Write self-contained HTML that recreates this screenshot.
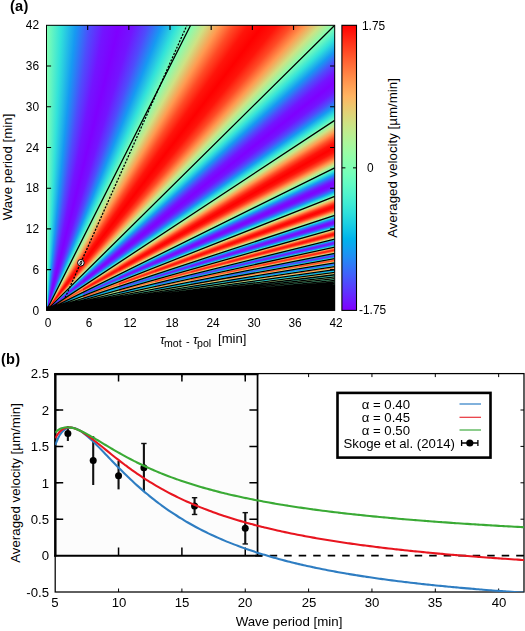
<!DOCTYPE html>
<html><head><meta charset="utf-8"><title>figure</title>
<style>
html,body{margin:0;padding:0;background:#fff;}
body{width:525px;height:631px;position:relative;overflow:hidden;font-family:"Liberation Sans", sans-serif;color:#000;}
.t{position:absolute;white-space:nowrap;line-height:1;will-change:transform;}
.ta{font-size:11.9px;}
.tb{font-size:13.2px;}
.lab{font-size:13.3px;}
.pl{font-size:14.6px;font-weight:bold;letter-spacing:0.2px;}
#h0{position:absolute;left:46.50px;top:25.30px;width:36.52px;height:285.10px;background:conic-gradient(from 0deg at 0.00px 100%,#80ffb4 0.00deg,#31e2da 2.89deg,#169af2 5.77deg,#4f4bfc 8.62deg,#7314ff 11.43deg,#7f00ff 14.18deg,#7314ff 16.87deg,#4f4bfc 19.48deg,#169af2 22.02deg,#31e2da 24.46deg,#7fffb4 26.81deg,#cee284 29.07deg,#ff9a51 31.24deg,#ff4d27 33.31deg,#ff160b 35.28deg,#ff0301 37.17deg,#ff170b 38.96deg,#ff4f28 40.67deg,#ff9c53 42.30deg,#cde385 43.84deg,#80ffb4 45.31deg,#33e3da 46.71deg,#12a0f1 48.03deg,#4757fb 49.30deg,#6924fe 50.50deg,#7314ff 51.64deg,#652afe 52.73deg,#4160fa 53.77deg,#0aa8ef 54.75deg,#38e7d7 55.70deg,#7fffb4 56.60deg,#c5e88a 57.45deg,#ffb260 58.27deg,#ff783e 59.06deg,#ff522a 59.80deg,#ff4a25 60.52deg,#ff6031 61.21deg,#ff8e4a 61.87deg,#efc56d 62.50deg,#b8f092 63.10deg,#80ffb4 63.68deg,#4bf2cf 64.24deg,#20d4e1 64.78deg,#03b7eb 65.29deg,#0ba7ef 65.79deg,#0aa9ee 66.27deg,#05baea 66.73deg,#1fd3e1 67.17deg,#3febd4 67.60deg,#60fac5 68.01deg,#7fffb4 68.41deg,#98fca6 68.80deg,#a9f79c 69.17deg,#b1f397 69.53deg,#b0f498 69.88deg,#a8f79c 70.22deg,#9dfba3 70.54deg,#91feaa 70.86deg,#88ffaf 71.16deg,#84ffb2 71.46deg,#80ffb4 71.75deg,#7bffb7 72.03deg,#77ffb9 72.30deg,#73febb 72.57deg,#71febc 72.82deg,#70febd 73.07deg,#71febc 73.31deg,#73febb 73.55deg,#77ffb9 73.78deg,#7bffb7 74.00deg,#80ffb4 74.22deg,#84ffb2 74.43deg,#88ffaf 74.63deg,#8cfead 74.84deg,#8efeac 75.03deg,#8ffeac 75.22deg,#8efeac 75.41deg,#8cfead 75.59deg,#88ffaf 75.77deg,#84ffb2 75.94deg,#80ffb4 76.11deg,#7bffb7 76.27deg,#77ffb9 76.44deg,#73febb 76.59deg,#71febc 76.75deg,#70febd 76.90deg,#71febc 77.04deg,#000 77.06deg,#000 360deg);}
#h1{position:absolute;left:82.53px;top:25.30px;width:36.52px;height:285.10px;background:conic-gradient(from 0deg at -36.02px 100%,#169af2 5.77deg,#4f4bfc 8.62deg,#7314ff 11.43deg,#7f00ff 14.18deg,#7314ff 16.87deg,#4f4bfc 19.48deg,#169af2 22.02deg,#31e2da 24.46deg,#7fffb4 26.81deg,#cee284 29.07deg,#ff9a51 31.24deg,#ff4c26 33.31deg,#ff140a 35.28deg,#ff0100 37.17deg,#ff140a 38.96deg,#ff4c26 40.67deg,#ff9a51 42.30deg,#cee284 43.84deg,#80ffb4 45.31deg,#31e2da 46.71deg,#159bf1 48.03deg,#4d4efc 49.30deg,#7117ff 50.50deg,#7d04ff 51.64deg,#7019ff 52.73deg,#4c50fc 53.77deg,#149df1 54.75deg,#32e3da 55.70deg,#7fffb4 56.60deg,#cce385 57.45deg,#ff9f54 58.27deg,#ff562c 59.06deg,#ff2211 59.80deg,#ff1109 60.52deg,#ff2613 61.21deg,#ff5c2f 61.87deg,#ffa558 62.50deg,#c9e587 63.10deg,#80ffb4 63.68deg,#37e6d8 64.24deg,#09aaee 64.78deg,#3b68f9 65.29deg,#5a3bfd 65.79deg,#622dfe 66.27deg,#5542fd 66.73deg,#3374f8 67.17deg,#00b4ec 67.60deg,#3dead5 68.01deg,#7fffb4 68.41deg,#c0eb8d 68.80deg,#f8bc67 69.17deg,#ff8a48 69.53deg,#ff6735 69.88deg,#ff5f31 70.22deg,#ff733b 70.54deg,#ff9b52 70.86deg,#e9cb71 71.16deg,#b6f194 71.46deg,#80ffb4 71.75deg,#4df3ce 72.03deg,#22d6e0 72.30deg,#03b8eb 72.57deg,#0ea5ef 72.82deg,#0fa3f0 73.07deg,#03b2ec 73.31deg,#16cbe5 73.55deg,#36e6d8 73.78deg,#5bf9c7 74.00deg,#7fffb4 74.22deg,#a0faa1 74.43deg,#b9ef91 74.63deg,#cae587 74.84deg,#d0e082 75.03deg,#cee284 75.22deg,#c4e98b 75.41deg,#b4f295 75.59deg,#a1f9a0 75.77deg,#8ffeab 75.94deg,#80ffb4 76.11deg,#74febb 76.27deg,#6dfdbe 76.44deg,#6cfdbf 76.59deg,#6ffebd 76.75deg,#70febd 76.90deg,#71febc 77.04deg,#73febb 77.19deg,#77ffb9 77.33deg,#7bffb7 77.47deg,#7fffb4 77.60deg,#84ffb2 77.73deg,#88ffaf 77.86deg,#8cfead 77.99deg,#8efeac 78.11deg,#8ffeac 78.24deg,#8efeac 78.35deg,#8cfead 78.47deg,#88ffaf 78.59deg,#84ffb2 78.70deg,#80ffb4 78.81deg,#7bffb7 78.92deg,#77ffb9 79.02deg,#73febb 79.13deg,#71febc 79.23deg,#70febd 79.33deg,#71febc 79.43deg,#73febb 79.52deg,#77ffb9 79.62deg,#7bffb7 79.71deg,#7fffb4 79.80deg,#84ffb2 79.89deg,#88ffaf 79.98deg,#8cfead 80.07deg,#8efeac 80.15deg,#8ffeac 80.24deg,#8efeac 80.32deg,#8cfead 80.40deg,#000 80.42deg,#000 360deg);}
#h2{position:absolute;left:118.55px;top:25.30px;width:36.52px;height:285.10px;background:conic-gradient(from 0deg at -72.05px 100%,#7f00ff 14.18deg,#7314ff 16.87deg,#4f4bfc 19.48deg,#169af2 22.02deg,#31e2da 24.46deg,#7fffb4 26.81deg,#cee284 29.07deg,#ff9a51 31.24deg,#ff4b26 33.31deg,#ff140a 35.28deg,#ff0000 37.17deg,#ff140a 38.96deg,#ff4c26 40.67deg,#ff9a51 42.30deg,#cee284 43.84deg,#80ffb4 45.31deg,#31e2da 46.71deg,#169af2 48.03deg,#4e4cfc 49.30deg,#7215ff 50.50deg,#7e02ff 51.64deg,#7215ff 52.73deg,#4e4dfc 53.77deg,#159bf2 54.75deg,#31e2da 55.70deg,#7fffb4 56.60deg,#cee284 57.45deg,#ff9c52 58.27deg,#ff4f28 59.06deg,#ff190c 59.80deg,#ff0603 60.52deg,#ff1a0d 61.21deg,#ff5129 61.87deg,#ff9e54 62.50deg,#cce385 63.10deg,#80ffb4 63.68deg,#33e3d9 64.24deg,#12a0f1 64.78deg,#4856fb 65.29deg,#6a22fe 65.79deg,#7511ff 66.27deg,#6825fe 66.73deg,#455bfb 67.17deg,#0ea4f0 67.60deg,#35e5d8 68.01deg,#7fffb4 68.41deg,#c9e587 68.80deg,#ffa759 69.17deg,#ff6433 69.53deg,#ff341a 69.88deg,#ff2512 70.22deg,#ff391d 70.54deg,#ff6b37 70.86deg,#ffae5e 71.16deg,#c5e88a 71.46deg,#80ffb4 71.75deg,#3ce9d6 72.03deg,#00b4ec 72.30deg,#2f7af7 72.57deg,#4b51fc 72.82deg,#5345fd 73.07deg,#4658fb 73.31deg,#2685f5 73.55deg,#09bee9 73.78deg,#42edd3 74.00deg,#7fffb4 74.22deg,#bbee90 74.43deg,#efc56d 74.63deg,#ff9951 74.84deg,#ff7a3f 75.03deg,#ff733b 75.22deg,#ff8444 75.41deg,#ffa759 75.59deg,#e2d176 75.77deg,#b2f396 75.94deg,#80ffb4 76.11deg,#4ff4cd 76.27deg,#27dade 76.44deg,#09bee9 76.59deg,#08abee 76.75deg,#0aa9ef 76.90deg,#01b5eb 77.04deg,#18cde4 77.19deg,#37e6d8 77.33deg,#5bf9c7 77.47deg,#7fffb4 77.60deg,#a1faa1 77.73deg,#bced90 77.86deg,#cfe183 77.99deg,#d8da7d 78.11deg,#d7da7d 78.24deg,#cee284 78.35deg,#beec8e 78.47deg,#aaf69b 78.59deg,#94fda8 78.70deg,#80ffb4 78.81deg,#6efebe 78.92deg,#62fbc4 79.02deg,#5bf8c8 79.13deg,#59f8c8 79.23deg,#5cf9c7 79.33deg,#63fbc4 79.43deg,#6bfdbf 79.52deg,#74febb 79.62deg,#7bffb7 79.71deg,#7fffb4 79.80deg,#84ffb2 79.89deg,#88ffaf 79.98deg,#8cfead 80.07deg,#8efeac 80.15deg,#8ffeac 80.24deg,#8efeac 80.32deg,#8cfead 80.40deg,#88ffaf 80.48deg,#84ffb2 80.56deg,#80ffb4 80.64deg,#7bffb7 80.71deg,#77ffb9 80.79deg,#73febb 80.86deg,#71febc 80.93deg,#70febd 81.01deg,#71febc 81.08deg,#73febb 81.15deg,#77ffb9 81.21deg,#7bffb7 81.28deg,#80ffb4 81.35deg,#84ffb2 81.41deg,#88ffaf 81.48deg,#8cfead 81.54deg,#8efeac 81.60deg,#8ffeac 81.66deg,#8efeac 81.72deg,#8cfead 81.78deg,#88ffaf 81.84deg,#84ffb2 81.90deg,#80ffb4 81.96deg,#7bffb7 82.01deg,#000 82.03deg,#000 360deg);}
#h3{position:absolute;left:154.57px;top:25.30px;width:36.53px;height:285.10px;background:conic-gradient(from 0deg at -108.07px 100%,#4f4bfc 19.48deg,#169af2 22.02deg,#31e2da 24.46deg,#7fffb4 26.81deg,#cee284 29.07deg,#ff9a51 31.24deg,#ff4b26 33.31deg,#ff140a 35.28deg,#ff0000 37.17deg,#ff140a 38.96deg,#ff4b26 40.67deg,#ff9a51 42.30deg,#cee284 43.84deg,#80ffb4 45.31deg,#31e2da 46.71deg,#169af2 48.03deg,#4e4cfc 49.30deg,#7314ff 50.50deg,#7f01ff 51.64deg,#7215ff 52.73deg,#4e4cfc 53.77deg,#169af2 54.75deg,#31e2da 55.70deg,#7fffb4 56.60deg,#cee284 57.45deg,#ff9b52 58.27deg,#ff4d27 59.06deg,#ff160b 59.80deg,#ff0302 60.52deg,#ff170b 61.21deg,#ff4e28 61.87deg,#ff9c52 62.50deg,#cde284 63.10deg,#80ffb4 63.68deg,#32e2da 64.24deg,#149df1 64.78deg,#4b51fc 65.29deg,#6e1bff 65.79deg,#7a09ff 66.27deg,#6d1dff 66.73deg,#4a53fb 67.17deg,#129ff1 67.60deg,#33e3d9 68.01deg,#7fffb4 68.41deg,#cce486 68.80deg,#ffa155 69.17deg,#ff582d 69.53deg,#ff2412 69.88deg,#ff130a 70.22deg,#ff2714 70.54deg,#ff5c2f 70.86deg,#ffa558 71.16deg,#c9e587 71.46deg,#80ffb4 71.75deg,#36e6d8 72.03deg,#0ba8ef 72.30deg,#3e64fa 72.57deg,#5e34fe 72.82deg,#6825fe 73.07deg,#5b38fd 73.31deg,#396bf9 73.55deg,#06aeed 73.78deg,#3ae8d7 74.00deg,#7fffb4 74.22deg,#c4e98a 74.43deg,#ffb260 74.63deg,#ff763d 74.84deg,#ff4c26 75.03deg,#ff3f20 75.22deg,#ff522a 75.41deg,#ff8042 75.59deg,#faba65 75.77deg,#bfec8e 75.94deg,#80ffb4 76.11deg,#41edd3 76.27deg,#0bc0e8 76.44deg,#1f8ff4 76.59deg,#386df9 76.75deg,#3f63fa 76.90deg,#3374f8 77.04deg,#169bf2 77.19deg,#15cae5 77.33deg,#48f0d0 77.47deg,#7fffb4 77.60deg,#b5f195 77.73deg,#e3d176 77.86deg,#ffad5d 77.99deg,#ff954e 78.11deg,#ff8f4b 78.24deg,#ff9d53 78.35deg,#faba65 78.47deg,#d6db7e 78.59deg,#acf69a 78.70deg,#80ffb4 78.81deg,#55f7ca 78.92deg,#32e2da 79.02deg,#18cde4 79.13deg,#0abfe9 79.23deg,#08bde9 79.33deg,#12c7e6 79.43deg,#25d9df 79.52deg,#41ecd4 79.62deg,#60fac5 79.71deg,#7fffb4 79.80deg,#9dfba3 79.89deg,#b4f295 79.98deg,#c5e88a 80.07deg,#cce385 80.15deg,#cce385 80.24deg,#c4e98b 80.32deg,#b6f194 80.40deg,#a5f89f 80.48deg,#92fdaa 80.56deg,#80ffb4 80.64deg,#70febd 80.71deg,#65fcc2 80.79deg,#5ffac6 80.86deg,#5df9c6 80.93deg,#60fac5 81.01deg,#65fcc2 81.08deg,#6dfdbf 81.15deg,#74feba 81.21deg,#7bffb7 81.28deg,#80ffb4 81.35deg,#84ffb2 81.41deg,#88ffaf 81.48deg,#8cfead 81.54deg,#8efeac 81.60deg,#8ffeac 81.66deg,#8efeac 81.72deg,#8cfead 81.78deg,#88ffaf 81.84deg,#84ffb2 81.90deg,#80ffb4 81.96deg,#7bffb7 82.01deg,#77ffb9 82.07deg,#73febb 82.12deg,#71febc 82.18deg,#70febd 82.23deg,#71febc 82.28deg,#73febb 82.33deg,#77ffb9 82.39deg,#7bffb7 82.44deg,#7fffb4 82.49deg,#84ffb2 82.54deg,#88ffaf 82.58deg,#8cfead 82.63deg,#8efeac 82.68deg,#8ffeac 82.73deg,#8efeac 82.77deg,#8cfead 82.82deg,#88ffaf 82.86deg,#84ffb2 82.91deg,#80ffb4 82.95deg,#7bffb7 82.99deg,#000 83.01deg,#000 360deg);}
#h4{position:absolute;left:190.60px;top:25.30px;width:36.53px;height:285.10px;background:conic-gradient(from 0deg at -144.10px 100%,#7fffb4 26.81deg,#cee284 29.07deg,#ff9a51 31.24deg,#ff4b26 33.31deg,#ff140a 35.28deg,#ff0000 37.17deg,#ff140a 38.96deg,#ff4b26 40.67deg,#ff9a51 42.30deg,#cee284 43.84deg,#80ffb4 45.31deg,#31e2da 46.71deg,#169af2 48.03deg,#4f4cfc 49.30deg,#7314ff 50.50deg,#7f01ff 51.64deg,#7314ff 52.73deg,#4e4cfc 53.77deg,#169af2 54.75deg,#31e2da 55.70deg,#7fffb4 56.60deg,#cee284 57.45deg,#ff9a51 58.27deg,#ff4d27 59.06deg,#ff150b 59.80deg,#ff0201 60.52deg,#ff160b 61.21deg,#ff4d27 61.87deg,#ff9b52 62.50deg,#cee284 63.10deg,#80ffb4 63.68deg,#31e2da 64.24deg,#159cf1 64.78deg,#4d4ffc 65.29deg,#7018ff 65.79deg,#7c05ff 66.27deg,#7019ff 66.73deg,#4c50fc 67.17deg,#149df1 67.60deg,#32e3da 68.01deg,#7fffb4 68.41deg,#cde385 68.80deg,#ff9e54 69.17deg,#ff532a 69.53deg,#ff1e0f 69.88deg,#ff0c06 70.22deg,#ff1f10 70.54deg,#ff562b 70.86deg,#ffa055 71.16deg,#cbe486 71.46deg,#80ffb4 71.75deg,#34e4d9 72.03deg,#0fa2f0 72.30deg,#455bfb 72.57deg,#6628fe 72.82deg,#7116ff 73.07deg,#652afe 73.31deg,#425ffa 73.55deg,#0ca6ef 73.78deg,#36e6d8 74.00deg,#7fffb4 74.22deg,#c8e688 74.43deg,#ffa95a 74.63deg,#ff6634 74.84deg,#ff371c 75.03deg,#ff2714 75.22deg,#ff3b1d 75.41deg,#ff6c37 75.59deg,#ffae5e 75.77deg,#c5e88a 75.94deg,#80ffb4 76.11deg,#3be9d6 76.27deg,#02b3ec 76.44deg,#3177f8 76.59deg,#4e4cfc 76.75deg,#573ffd 76.90deg,#4b51fc 77.04deg,#2b7ff6 77.19deg,#05baea 77.33deg,#40ecd4 77.47deg,#7fffb4 77.60deg,#beec8e 77.73deg,#f5bf69 77.86deg,#ff8c49 77.99deg,#ff6936 78.11deg,#ff5e30 78.24deg,#ff6f39 78.35deg,#ff964f 78.47deg,#edc76f 78.59deg,#b8f092 78.70deg,#80ffb4 78.81deg,#48f0d0 78.92deg,#18cde4 79.02deg,#0ca6ef 79.13deg,#228bf4 79.23deg,#2784f6 79.33deg,#1c92f3 79.43deg,#02b2ec 79.52deg,#23d7e0 79.62deg,#50f4cd 79.71deg,#7fffb4 79.80deg,#adf599 79.89deg,#d4dd80 79.98deg,#f2c26b 80.07deg,#ffb05f 80.15deg,#ffad5d 80.24deg,#fcb864 80.32deg,#e6cd73 80.40deg,#c8e688 80.48deg,#a5f89f 80.56deg,#80ffb4 80.64deg,#5df9c7 80.71deg,#3febd4 80.79deg,#2adddd 80.86deg,#1fd3e1 80.93deg,#1ed2e2 81.01deg,#26dade 81.08deg,#37e6d8 81.15deg,#4df3ce 81.21deg,#66fcc2 81.28deg,#80ffb4 81.35deg,#96fca7 81.41deg,#a9f79c 81.48deg,#b5f194 81.54deg,#bbee91 81.60deg,#baef91 81.66deg,#b3f295 81.72deg,#a8f79c 81.78deg,#9bfba5 81.84deg,#8dfead 81.90deg,#80ffb4 81.96deg,#75feba 82.01deg,#6dfdbe 82.07deg,#6afdc0 82.12deg,#69fdc0 82.18deg,#6cfdbf 82.23deg,#70febd 82.28deg,#73febb 82.33deg,#77ffb9 82.39deg,#7bffb7 82.44deg,#7fffb4 82.49deg,#84ffb2 82.54deg,#88ffaf 82.58deg,#8cfead 82.63deg,#8efeac 82.68deg,#8ffeac 82.73deg,#8efeac 82.77deg,#8cfead 82.82deg,#88ffaf 82.86deg,#84ffb2 82.91deg,#80ffb4 82.95deg,#7bffb7 82.99deg,#77ffb9 83.04deg,#73febb 83.08deg,#71febc 83.12deg,#70febd 83.16deg,#71febc 83.20deg,#73febb 83.24deg,#77ffb9 83.28deg,#7bffb7 83.32deg,#80ffb4 83.36deg,#84ffb2 83.40deg,#88ffaf 83.44deg,#8cfead 83.48deg,#8efeac 83.51deg,#8ffeac 83.55deg,#8efeac 83.59deg,#8cfead 83.62deg,#88ffaf 83.66deg,#84ffb2 83.69deg,#000 83.71deg,#000 360deg);}
#h5{position:absolute;left:226.62px;top:25.30px;width:36.52px;height:285.10px;background:conic-gradient(from 0deg at -180.12px 100%,#ff9a51 31.24deg,#ff4b26 33.31deg,#ff140a 35.28deg,#ff0000 37.17deg,#ff140a 38.96deg,#ff4b26 40.67deg,#ff9a51 42.30deg,#cee284 43.84deg,#80ffb4 45.31deg,#31e2da 46.71deg,#169af2 48.03deg,#4f4cfc 49.30deg,#7314ff 50.50deg,#7f00ff 51.64deg,#7314ff 52.73deg,#4f4cfc 53.77deg,#169af2 54.75deg,#31e2da 55.70deg,#7fffb4 56.60deg,#cee284 57.45deg,#ff9a51 58.27deg,#ff4c27 59.06deg,#ff150a 59.80deg,#ff0101 60.52deg,#ff150a 61.21deg,#ff4d27 61.87deg,#ff9b52 62.50deg,#cee284 63.10deg,#80ffb4 63.68deg,#31e2da 64.24deg,#159bf2 64.78deg,#4d4efc 65.29deg,#7117ff 65.79deg,#7d04ff 66.27deg,#7117ff 66.73deg,#4d4ffc 67.17deg,#159cf1 67.60deg,#32e2da 68.01deg,#7fffb4 68.41deg,#cde284 68.80deg,#ff9d53 69.17deg,#ff5129 69.53deg,#ff1a0d 69.88deg,#ff0804 70.22deg,#ff1c0e 70.54deg,#ff522a 70.86deg,#ff9e54 71.16deg,#cce385 71.46deg,#80ffb4 71.75deg,#33e3d9 72.03deg,#12a0f1 72.30deg,#4856fb 72.57deg,#6a21fe 72.82deg,#760fff 73.07deg,#6923fe 73.31deg,#4658fb 73.55deg,#10a2f0 73.78deg,#34e4d9 74.00deg,#7fffb4 74.22deg,#cae587 74.43deg,#ffa457 74.63deg,#ff5e30 74.84deg,#ff2b16 75.03deg,#ff1b0d 75.22deg,#ff2e17 75.41deg,#ff6232 75.59deg,#ffa85a 75.77deg,#c8e688 75.94deg,#80ffb4 76.11deg,#38e7d7 76.27deg,#08abee 76.44deg,#3a69f9 76.59deg,#5a3afd 76.75deg,#642bfe 76.90deg,#583efd 77.04deg,#366ff9 77.19deg,#04b0ed 77.33deg,#3be9d6 77.47deg,#7fffb4 77.60deg,#c3e98b 77.73deg,#ffb461 77.86deg,#ff793e 77.99deg,#ff4f28 78.11deg,#ff4221 78.24deg,#ff542a 78.35deg,#ff8043 78.47deg,#f9ba66 78.59deg,#bfec8e 78.70deg,#80ffb4 78.81deg,#41ecd3 78.92deg,#0abfe8 79.02deg,#208df4 79.13deg,#3b69f9 79.23deg,#425efa 79.33deg,#376ff9 79.43deg,#1a96f3 79.52deg,#12c7e6 79.62deg,#46efd1 79.71deg,#7fffb4 79.80deg,#b7f093 79.89deg,#e8cc72 79.98deg,#ffa457 80.07deg,#ff8847 80.15deg,#ff8042 80.24deg,#ff8e4a 80.32deg,#ffae5e 80.40deg,#ded579 80.48deg,#b1f397 80.56deg,#80ffb4 80.64deg,#50f4cd 80.71deg,#27dade 80.79deg,#09bee9 80.86deg,#09a9ee 80.93deg,#0da5ef 81.01deg,#04b0ed 81.08deg,#12c8e6 81.15deg,#32e3da 81.21deg,#58f7c9 81.28deg,#80ffb4 81.35deg,#a5f89e 81.41deg,#c5e88a 81.48deg,#ddd67a 81.54deg,#eaca71 81.60deg,#ecc86f 81.66deg,#e3d075 81.72deg,#d2df81 81.78deg,#b9ef92 81.84deg,#9dfba3 81.90deg,#80ffb4 81.96deg,#64fbc3 82.01deg,#4ef3ce 82.07deg,#3eebd5 82.12deg,#36e5d8 82.18deg,#36e5d8 82.23deg,#3dead5 82.28deg,#4af1d0 82.33deg,#5bf8c8 82.39deg,#6dfdbe 82.44deg,#7fffb4 82.49deg,#90feab 82.54deg,#9cfba4 82.58deg,#a4f99f 82.63deg,#a7f89d 82.68deg,#a5f89e 82.73deg,#a0faa1 82.77deg,#99fca6 82.82deg,#90feab 82.86deg,#87ffb0 82.91deg,#80ffb4 82.95deg,#7affb7 82.99deg,#77ffb9 83.04deg,#73febb 83.08deg,#71febc 83.12deg,#70febd 83.16deg,#71febc 83.20deg,#73febb 83.24deg,#77ffb9 83.28deg,#7bffb7 83.32deg,#80ffb4 83.36deg,#84ffb2 83.40deg,#88ffaf 83.44deg,#8cfead 83.48deg,#8efeac 83.51deg,#8ffeac 83.55deg,#8efeac 83.59deg,#8cfead 83.62deg,#88ffaf 83.66deg,#84ffb2 83.69deg,#80ffb4 83.73deg,#7bffb7 83.76deg,#77ffb9 83.80deg,#73febb 83.83deg,#71febc 83.86deg,#70febd 83.90deg,#71febc 83.93deg,#73febb 83.96deg,#77ffb9 83.99deg,#7bffb7 84.02deg,#7fffb4 84.06deg,#84ffb2 84.09deg,#88ffaf 84.12deg,#8cfead 84.15deg,#8efeac 84.18deg,#8ffeac 84.21deg,#000 84.23deg,#000 360deg);}
#h6{position:absolute;left:262.65px;top:25.30px;width:36.53px;height:285.10px;background:conic-gradient(from 0deg at -216.15px 100%,#ff0000 37.17deg,#ff140a 38.96deg,#ff4b26 40.67deg,#ff9a51 42.30deg,#cee284 43.84deg,#80ffb4 45.31deg,#31e2da 46.71deg,#169af2 48.03deg,#4f4bfc 49.30deg,#7314ff 50.50deg,#7f00ff 51.64deg,#7314ff 52.73deg,#4f4cfc 53.77deg,#169af2 54.75deg,#31e2da 55.70deg,#7fffb4 56.60deg,#cee284 57.45deg,#ff9a51 58.27deg,#ff4c26 59.06deg,#ff140a 59.80deg,#ff0100 60.52deg,#ff150a 61.21deg,#ff4c27 61.87deg,#ff9a51 62.50deg,#cee284 63.10deg,#80ffb4 63.68deg,#31e2da 64.24deg,#169bf2 64.78deg,#4e4dfc 65.29deg,#7216ff 65.79deg,#7e03ff 66.27deg,#7116ff 66.73deg,#4d4efc 67.17deg,#159bf1 67.60deg,#31e2da 68.01deg,#7fffb4 68.41deg,#cde284 68.80deg,#ff9c52 69.17deg,#ff4f28 69.53deg,#ff190c 69.88deg,#ff0603 70.22deg,#ff190d 70.54deg,#ff5029 70.86deg,#ff9d53 71.16deg,#cde385 71.46deg,#80ffb4 71.75deg,#32e3da 72.03deg,#139ef1 72.30deg,#4a53fc 72.57deg,#6d1dff 72.82deg,#790bff 73.07deg,#6c1fff 73.31deg,#4855fb 73.55deg,#12a0f1 73.78deg,#33e4d9 74.00deg,#7fffb4 74.22deg,#cbe486 74.43deg,#ffa156 74.63deg,#ff592d 74.84deg,#ff2512 75.03deg,#ff130a 75.22deg,#ff2713 75.41deg,#ff5c2f 75.59deg,#ffa457 75.77deg,#cae587 75.94deg,#80ffb4 76.11deg,#36e5d8 76.27deg,#0ca6ef 76.44deg,#4061fa 76.59deg,#6130fe 76.75deg,#6c1fff 76.90deg,#5f32fe 77.04deg,#3d65fa 77.19deg,#09aaee 77.33deg,#38e7d7 77.47deg,#7fffb4 77.60deg,#c6e789 77.73deg,#ffad5d 77.86deg,#ff6d38 77.99deg,#ff3f20 78.11deg,#ff3018 78.24deg,#ff4322 78.35deg,#ff733b 78.47deg,#ffb260 78.59deg,#c3e98b 78.70deg,#80ffb4 78.81deg,#3dead5 78.92deg,#01b6eb 79.02deg,#2d7cf7 79.13deg,#4a53fc 79.23deg,#5346fd 79.33deg,#4757fb 79.43deg,#2883f6 79.52deg,#07bce9 79.62deg,#41ecd4 79.71deg,#7fffb4 79.80deg,#bded8f 79.89deg,#f4c06a 79.98deg,#ff8f4b 80.07deg,#ff6c37 80.15deg,#ff6131 80.24deg,#ff713a 80.32deg,#ff9750 80.40deg,#edc86f 80.48deg,#b8f092 80.56deg,#80ffb4 80.64deg,#48f0d0 80.71deg,#18cde4 80.79deg,#0ea5ef 80.86deg,#2488f5 80.93deg,#2a80f6 81.01deg,#1f8ef4 81.08deg,#06aeed 81.15deg,#20d4e1 81.21deg,#4ef3ce 81.28deg,#80ffb4 81.35deg,#aff498 81.41deg,#d9d97d 81.48deg,#f8bc67 81.54deg,#ffa759 81.60deg,#ffa256 81.66deg,#ffad5d 81.72deg,#efc56d 81.78deg,#cfe183 81.84deg,#a8f79c 81.90deg,#80ffb4 81.96deg,#59f8c9 82.01deg,#37e6d8 82.07deg,#1ed3e1 82.12deg,#10c5e6 82.18deg,#0ec3e7 82.23deg,#16cbe4 82.28deg,#28dbde 82.33deg,#42edd3 82.39deg,#60fac5 82.44deg,#7fffb4 82.49deg,#9dfba3 82.54deg,#b5f194 82.58deg,#c7e788 82.63deg,#d1e082 82.68deg,#d2df82 82.73deg,#cae486 82.77deg,#bded8f 82.82deg,#aaf69b 82.86deg,#95fda8 82.91deg,#80ffb4 82.95deg,#6cfdbf 82.99deg,#5df9c7 83.04deg,#52f5cc 83.08deg,#4ef3ce 83.12deg,#4ef3cd 83.16deg,#54f6cb 83.20deg,#5df9c6 83.24deg,#68fcc1 83.28deg,#74feba 83.32deg,#80ffb4 83.36deg,#89ffaf 83.40deg,#8ffeab 83.44deg,#93fda9 83.48deg,#93fda9 83.51deg,#91feaa 83.55deg,#8efeac 83.59deg,#8cfead 83.62deg,#88ffaf 83.66deg,#84ffb2 83.69deg,#80ffb4 83.73deg,#7bffb7 83.76deg,#77ffb9 83.80deg,#73febb 83.83deg,#71febc 83.86deg,#70febd 83.90deg,#71febc 83.93deg,#73febb 83.96deg,#77ffb9 83.99deg,#7bffb7 84.02deg,#7fffb4 84.06deg,#84ffb2 84.09deg,#88ffaf 84.12deg,#8cfead 84.15deg,#8efeac 84.18deg,#8ffeac 84.21deg,#8efeac 84.24deg,#8cfead 84.26deg,#88ffaf 84.29deg,#84ffb2 84.32deg,#80ffb4 84.35deg,#7bffb7 84.38deg,#77ffb9 84.41deg,#73febb 84.43deg,#71febc 84.46deg,#70febd 84.49deg,#71febc 84.51deg,#73febb 84.54deg,#77ffb9 84.57deg,#7bffb7 84.59deg,#80ffb4 84.62deg,#000 84.64deg,#000 360deg);}
#h7{position:absolute;left:298.67px;top:25.30px;width:36.03px;height:285.10px;background:conic-gradient(from 0deg at -252.17px 100%,#ff4b26 40.67deg,#ff9a51 42.30deg,#cee284 43.84deg,#80ffb4 45.31deg,#31e2da 46.71deg,#169af2 48.03deg,#4f4bfc 49.30deg,#7314ff 50.50deg,#7f00ff 51.64deg,#7314ff 52.73deg,#4f4cfc 53.77deg,#169af2 54.75deg,#31e2da 55.70deg,#7fffb4 56.60deg,#cee284 57.45deg,#ff9a51 58.27deg,#ff4c26 59.06deg,#ff140a 59.80deg,#ff0100 60.52deg,#ff140a 61.21deg,#ff4c26 61.87deg,#ff9a51 62.50deg,#cee284 63.10deg,#80ffb4 63.68deg,#31e2da 64.24deg,#169af2 64.78deg,#4e4dfc 65.29deg,#7215ff 65.79deg,#7e02ff 66.27deg,#7216ff 66.73deg,#4e4dfc 67.17deg,#159bf2 67.60deg,#31e2da 68.01deg,#7fffb4 68.41deg,#cee284 68.80deg,#ff9b52 69.17deg,#ff4e28 69.53deg,#ff170c 69.88deg,#ff0402 70.22deg,#ff180c 70.54deg,#ff4f28 70.86deg,#ff9c53 71.16deg,#cde284 71.46deg,#80ffb4 71.75deg,#32e2da 72.03deg,#149df1 72.30deg,#4b51fc 72.57deg,#6e1bff 72.82deg,#7a08ff 73.07deg,#6e1cff 73.31deg,#4a52fc 73.55deg,#139ef1 73.78deg,#33e3da 74.00deg,#7fffb4 74.22deg,#cce385 74.43deg,#ffa055 74.63deg,#ff552b 74.84deg,#ff2110 75.03deg,#ff0e07 75.22deg,#ff2211 75.41deg,#ff582d 75.59deg,#ffa256 75.77deg,#cbe486 75.94deg,#80ffb4 76.11deg,#35e4d9 76.27deg,#0fa3f0 76.44deg,#445cfb 76.59deg,#6529fe 76.75deg,#7018ff 76.90deg,#642bfe 77.04deg,#415ffa 77.19deg,#0ca6ef 77.33deg,#36e5d8 77.47deg,#7fffb4 77.60deg,#c8e688 77.73deg,#ffa95a 77.86deg,#ff6534 77.99deg,#ff351a 78.11deg,#ff2412 78.24deg,#ff371c 78.35deg,#ff6936 78.47deg,#ffac5d 78.59deg,#c6e789 78.70deg,#80ffb4 78.81deg,#3ae8d7 78.92deg,#04afed 79.02deg,#3571f8 79.13deg,#5444fd 79.23deg,#5d35fe 79.33deg,#5148fc 79.43deg,#3177f8 79.52deg,#00b4ec 79.62deg,#3dead5 79.71deg,#7fffb4 79.80deg,#c1ea8c 79.89deg,#fcb864 79.98deg,#ff8042 80.07deg,#ff582d 80.15deg,#ff4b26 80.24deg,#ff5c2f 80.32deg,#ff8746 80.40deg,#f6be68 80.48deg,#bded8f 80.56deg,#80ffb4 80.64deg,#43edd3 80.71deg,#0dc2e7 80.79deg,#1d92f3 80.86deg,#366ff9 80.93deg,#3e65fa 81.01deg,#3275f8 81.08deg,#169af2 81.15deg,#14c9e5 81.21deg,#48f0d1 81.28deg,#80ffb4 81.35deg,#b6f194 81.41deg,#e6ce73 81.48deg,#ffa659 81.54deg,#ff8a48 81.60deg,#ff8244 81.66deg,#ff904b 81.72deg,#ffaf5e 81.78deg,#ded579 81.84deg,#b1f397 81.90deg,#80ffb4 81.96deg,#50f4cd 82.01deg,#27dade 82.07deg,#07bce9 82.12deg,#0ba7ef 82.18deg,#10a2f0 82.23deg,#06aded 82.28deg,#10c5e7 82.33deg,#30e1db 82.39deg,#56f7ca 82.44deg,#7fffb4 82.49deg,#a7f89d 82.54deg,#c9e587 82.58deg,#e2d176 82.63deg,#f1c46c 82.68deg,#f4c06a 82.73deg,#ebc970 82.77deg,#d9d97d 82.82deg,#bfec8e 82.86deg,#a0faa2 82.91deg,#80ffb4 82.95deg,#61fbc4 82.99deg,#47f0d1 83.04deg,#35e4d9 83.08deg,#2adddd 83.12deg,#29dcdd 83.16deg,#30e1db 83.20deg,#3eebd5 83.24deg,#52f5cc 83.28deg,#69fcc1 83.32deg,#80ffb4 83.36deg,#95fda8 83.40deg,#a6f89e 83.44deg,#b2f396 83.48deg,#b8f093 83.51deg,#b8f093 83.55deg,#b2f396 83.59deg,#a8f79d 83.62deg,#9bfba4 83.66deg,#8dfead 83.69deg,#80ffb4 83.73deg,#74febb 83.76deg,#6bfdbf 83.80deg,#66fcc2 83.83deg,#64fbc3 83.86deg,#65fcc2 83.90deg,#6afdc0 83.93deg,#6ffebd 83.96deg,#75feba 83.99deg,#7bffb7 84.02deg,#7fffb4 84.06deg,#84ffb2 84.09deg,#88ffaf 84.12deg,#8cfead 84.15deg,#8efeac 84.18deg,#8ffeac 84.21deg,#8efeac 84.24deg,#8cfead 84.26deg,#88ffaf 84.29deg,#84ffb2 84.32deg,#80ffb4 84.35deg,#7bffb7 84.38deg,#77ffb9 84.41deg,#73febb 84.43deg,#71febc 84.46deg,#70febd 84.49deg,#71febc 84.51deg,#73febb 84.54deg,#77ffb9 84.57deg,#7bffb7 84.59deg,#80ffb4 84.62deg,#84ffb2 84.64deg,#88ffaf 84.67deg,#8cfead 84.69deg,#8efeac 84.72deg,#8ffeac 84.74deg,#8efeac 84.77deg,#8cfead 84.79deg,#88ffaf 84.81deg,#84ffb2 84.84deg,#80ffb4 84.86deg,#7bffb7 84.88deg,#77ffb9 84.91deg,#73febb 84.93deg,#000 84.95deg,#000 360deg);}
#cbar{position:absolute;left:341.9px;top:25.30px;width:14.6px;height:285.10px;background:linear-gradient(to bottom,#ff0000 0.00%,#ff190d 3.12%,#ff3219 6.25%,#ff4a25 9.38%,#ff6232 12.50%,#ff783e 15.62%,#ff8e4a 18.75%,#ffa256 21.88%,#ffb462 25.00%,#efc56d 28.12%,#dfd478 31.25%,#cfe183 34.38%,#bfec8e 37.50%,#aff498 40.62%,#9ffaa2 43.75%,#8ffeab 46.88%,#80ffb4 50.00%,#70febd 53.12%,#60fac5 56.25%,#50f4cd 59.38%,#40ecd4 62.50%,#30e1db 65.62%,#20d4e1 68.75%,#10c5e7 71.88%,#00b4ec 75.00%,#10a2f0 78.12%,#208ef4 81.25%,#3078f7 84.38%,#4062fa 87.50%,#504afc 90.62%,#6032fe 93.75%,#7019ff 96.88%,#8000ff 100.00%);}
svg{position:absolute;left:0;top:0;}
</style></head><body>
<div id="h0"></div><div id="h1"></div><div id="h2"></div><div id="h3"></div><div id="h4"></div><div id="h5"></div><div id="h6"></div><div id="h7"></div>
<div id="cbar"></div>
<svg width="525" height="631" viewBox="0 0 525 631">
<defs><clipPath id="ca"><rect x="46.50" y="25.30" width="288.20" height="285.10"/></clipPath>
<clipPath id="cb"><rect x="55.20" y="373.60" width="468.79" height="218.40"/></clipPath></defs>
<g clip-path="url(#ca)">
<polygon points="46.50,310.40 334.70,307.55 334.70,310.40" fill="#000"/>
<path d="M46.50,310.40 L190.60,25.30 M46.50,310.40 L334.70,25.30 M46.50,310.40 L334.70,120.33 M46.50,310.40 L334.70,167.85 M46.50,310.40 L334.70,196.36 M46.50,310.40 L334.70,215.37 M46.50,310.40 L334.70,228.94 M46.50,310.40 L334.70,239.12 M46.50,310.40 L334.70,247.04 M46.50,310.40 L334.70,253.38 M46.50,310.40 L334.70,258.56 M46.50,310.40 L334.70,262.88 M46.50,310.40 L334.70,266.54 M46.50,310.40 L334.70,269.67 M46.50,310.40 L334.70,272.39 M46.50,310.40 L334.70,274.76 M46.50,310.40 L334.70,276.86 M46.50,310.40 L334.70,278.72 M46.50,310.40 L334.70,280.39 M46.50,310.40 L334.70,281.89 M46.50,310.40 L334.70,283.25 M46.50,310.40 L334.70,284.48 M46.50,310.40 L334.70,285.61 M46.50,310.40 L334.70,286.64 M46.50,310.40 L334.70,287.59 M46.50,310.40 L334.70,288.47 M46.50,310.40 L334.70,289.28 M46.50,310.40 L334.70,290.04 M46.50,310.40 L334.70,290.74 M46.50,310.40 L334.70,291.39 M46.50,310.40 L334.70,292.01 M46.50,310.40 L334.70,292.58 M46.50,310.40 L334.70,293.12 M46.50,310.40 L334.70,293.63 M46.50,310.40 L334.70,294.11 M46.50,310.40 L334.70,294.56 M46.50,310.40 L334.70,294.99 M46.50,310.40 L334.70,295.39 M46.50,310.40 L334.70,295.78 M46.50,310.40 L334.70,296.14 M46.50,310.40 L334.70,296.49 M46.50,310.40 L334.70,296.82 M46.50,310.40 L334.70,297.14 M46.50,310.40 L334.70,297.44 M46.50,310.40 L334.70,297.73 M46.50,310.40 L334.70,298.00 M46.50,310.40 L334.70,298.27 M46.50,310.40 L334.70,298.52 M46.50,310.40 L334.70,298.76 M46.50,310.40 L334.70,299.00 M46.50,310.40 L334.70,299.22 M46.50,310.40 L334.70,299.43 M46.50,310.40 L334.70,299.64 M46.50,310.40 L334.70,299.84 M46.50,310.40 L334.70,300.03 M46.50,310.40 L334.70,300.22 M46.50,310.40 L334.70,300.40 M46.50,310.40 L334.70,300.57 M46.50,310.40 L334.70,300.74 M46.50,310.40 L334.70,300.90 M46.50,310.40 L334.70,301.05 M46.50,310.40 L334.70,301.20 M46.50,310.40 L334.70,301.35 M46.50,310.40 L334.70,301.49 M46.50,310.40 L334.70,301.63 M46.50,310.40 L334.70,301.76 M46.50,310.40 L334.70,301.89 M46.50,310.40 L334.70,302.01 M46.50,310.40 L334.70,302.14 M46.50,310.40 L334.70,302.25 M46.50,310.40 L334.70,302.37 M46.50,310.40 L334.70,302.48 M46.50,310.40 L334.70,302.59 M46.50,310.40 L334.70,302.69 M46.50,310.40 L334.70,302.80 M46.50,310.40 L334.70,302.90 M46.50,310.40 L334.70,302.99 M46.50,310.40 L334.70,303.09 M46.50,310.40 L334.70,303.18 M46.50,310.40 L334.70,303.27 M46.50,310.40 L334.70,303.36 M46.50,310.40 L334.70,303.45 M46.50,310.40 L334.70,303.53 M46.50,310.40 L334.70,303.61 M46.50,310.40 L334.70,303.69 M46.50,310.40 L334.70,303.77 M46.50,310.40 L334.70,303.85 M46.50,310.40 L334.70,303.92 M46.50,310.40 L334.70,303.99 M46.50,310.40 L334.70,304.06 M46.50,310.40 L334.70,304.13 M46.50,310.40 L334.70,304.20 M46.50,310.40 L334.70,304.27 M46.50,310.40 L334.70,304.33 M46.50,310.40 L334.70,304.40 M46.50,310.40 L334.70,304.46 M46.50,310.40 L334.70,304.52 M46.50,310.40 L334.70,304.58 M46.50,310.40 L334.70,304.64 M46.50,310.40 L334.70,304.70 M46.50,310.40 L334.70,304.75 M46.50,310.40 L334.70,304.81 M46.50,310.40 L334.70,304.86 M46.50,310.40 L334.70,304.92 M46.50,310.40 L334.70,304.97 M46.50,310.40 L334.70,305.02 M46.50,310.40 L334.70,305.07 M46.50,310.40 L334.70,305.12 M46.50,310.40 L334.70,305.17 M46.50,310.40 L334.70,305.22 M46.50,310.40 L334.70,305.26 M46.50,310.40 L334.70,305.31 M46.50,310.40 L334.70,305.35 M46.50,310.40 L334.70,305.40 M46.50,310.40 L334.70,305.44 M46.50,310.40 L334.70,305.48 M46.50,310.40 L334.70,305.53 M46.50,310.40 L334.70,305.57 M46.50,310.40 L334.70,305.61 M46.50,310.40 L334.70,305.65 M46.50,310.40 L334.70,305.69 M46.50,310.40 L334.70,305.73 M46.50,310.40 L334.70,305.76 M46.50,310.40 L334.70,305.80 M46.50,310.40 L334.70,305.84 M46.50,310.40 L334.70,305.87 M46.50,310.40 L334.70,305.91 M46.50,310.40 L334.70,305.95 M46.50,310.40 L334.70,305.98 M46.50,310.40 L334.70,306.01 M46.50,310.40 L334.70,306.05 M46.50,310.40 L334.70,306.08 M46.50,310.40 L334.70,306.11 M46.50,310.40 L334.70,306.14 M46.50,310.40 L334.70,306.18 M46.50,310.40 L334.70,306.21 M46.50,310.40 L334.70,306.24 M46.50,310.40 L334.70,306.27 M46.50,310.40 L334.70,306.30 M46.50,310.40 L334.70,306.33 M46.50,310.40 L334.70,306.36 M46.50,310.40 L334.70,306.38 M46.50,310.40 L334.70,306.41 M46.50,310.40 L334.70,306.44 M46.50,310.40 L334.70,306.47 M46.50,310.40 L334.70,306.49 M46.50,310.40 L334.70,306.52 M46.50,310.40 L334.70,306.55 M46.50,310.40 L334.70,306.57 M46.50,310.40 L334.70,306.60 M46.50,310.40 L334.70,306.62 M46.50,310.40 L334.70,306.65 M46.50,310.40 L334.70,306.67 M46.50,310.40 L334.70,306.70 M46.50,310.40 L334.70,306.72 M46.50,310.40 L334.70,306.74 M46.50,310.40 L334.70,306.77 M46.50,310.40 L334.70,306.79 M46.50,310.40 L334.70,306.81 M46.50,310.40 L334.70,306.84 M46.50,310.40 L334.70,306.86 M46.50,310.40 L334.70,306.88 M46.50,310.40 L334.70,306.90 M46.50,310.40 L334.70,306.92 M46.50,310.40 L334.70,306.94 M46.50,310.40 L334.70,306.97 M46.50,310.40 L334.70,306.99 M46.50,310.40 L334.70,307.01 M46.50,310.40 L334.70,307.03 M46.50,310.40 L334.70,307.05 M46.50,310.40 L334.70,307.07 M46.50,310.40 L334.70,307.08 M46.50,310.40 L334.70,307.10 M46.50,310.40 L334.70,307.12 M46.50,310.40 L334.70,307.14 M46.50,310.40 L334.70,307.16 M46.50,310.40 L334.70,307.18 M46.50,310.40 L334.70,307.20 M46.50,310.40 L334.70,307.21 M46.50,310.40 L334.70,307.23 M46.50,310.40 L334.70,307.25 M46.50,310.40 L334.70,307.27 M46.50,310.40 L334.70,307.28 M46.50,310.40 L334.70,307.30 M46.50,310.40 L334.70,307.32 M46.50,310.40 L334.70,307.33 M46.50,310.40 L334.70,307.35 M46.50,310.40 L334.70,307.37 M46.50,310.40 L334.70,307.38 M46.50,310.40 L334.70,307.40 M46.50,310.40 L334.70,307.41 M46.50,310.40 L334.70,307.43 M46.50,310.40 L334.70,307.45 M46.50,310.40 L334.70,307.46 M46.50,310.40 L334.70,307.48 M46.50,310.40 L334.70,307.49 M46.50,310.40 L334.70,307.51 M46.50,310.40 L334.70,307.52 M46.50,310.40 L334.70,307.53 M46.50,310.40 L334.70,307.55" stroke="#000" stroke-width="1.3" fill="none"/>
<rect x="46.50" y="306.4" width="288.20" height="5" fill="#000"/>
<line x1="65.1" y1="297.8" x2="186.9" y2="25.3" stroke="#000" stroke-width="1.3" stroke-dasharray="2.1,1.4"/>
</g>
<circle cx="80.9" cy="262.8" r="3.3" fill="#fff" stroke="#000" stroke-width="1"/>
<ellipse cx="80.9" cy="262.9" rx="0.85" ry="1.65" fill="none" stroke="#000" stroke-width="1" transform="rotate(18 80.9 262.9)"/>
<rect x="46.50" y="25.30" width="288.20" height="285.10" fill="none" stroke="#000" stroke-width="1"/>
<path d="M87.67,310.40 v-4.6 M87.67,25.30 v4.6 M46.50,269.67 h4.6 M334.70,269.67 h-4.6 M128.84,310.40 v-4.6 M128.84,25.30 v4.6 M46.50,228.94 h4.6 M334.70,228.94 h-4.6 M170.01,310.40 v-4.6 M170.01,25.30 v4.6 M46.50,188.21 h4.6 M334.70,188.21 h-4.6 M211.19,310.40 v-4.6 M211.19,25.30 v4.6 M46.50,147.49 h4.6 M334.70,147.49 h-4.6 M252.36,310.40 v-4.6 M252.36,25.30 v4.6 M46.50,106.76 h4.6 M334.70,106.76 h-4.6 M293.53,310.40 v-4.6 M293.53,25.30 v4.6 M46.50,66.03 h4.6 M334.70,66.03 h-4.6" stroke="#000" stroke-width="1.15" fill="none"/>
<rect x="341.9" y="25.30" width="14.6" height="285.10" fill="none" stroke="#000" stroke-width="1.1"/>
<path d="M341.9,167.85 h3.5 M356.5,167.85 h-3.5" stroke="#000" stroke-width="1" fill="none"/>
<rect x="55.20" y="373.60" width="202.20" height="182.00" fill="#fcfcfc"/>
<rect x="55.20" y="373.60" width="468.79" height="218.40" fill="none" stroke="#000" stroke-width="1.25"/>
<path d="M118.55,592.00 v-3.5 M118.55,373.60 v3.5 M181.90,592.00 v-3.5 M181.90,373.60 v3.5 M245.25,592.00 v-3.5 M245.25,373.60 v3.5 M308.60,592.00 v-3.5 M308.60,373.60 v3.5 M371.95,592.00 v-3.5 M371.95,373.60 v3.5 M435.30,592.00 v-3.5 M435.30,373.60 v3.5 M498.65,592.00 v-3.5 M498.65,373.60 v3.5 M55.20,410.00 h3.5 M523.99,410.00 h-3.5 M55.20,446.40 h3.5 M523.99,446.40 h-3.5 M55.20,482.80 h3.5 M523.99,482.80 h-3.5 M55.20,519.20 h3.5 M523.99,519.20 h-3.5 M55.20,555.60 h3.5 M523.99,555.60 h-3.5" stroke="#000" stroke-width="1" fill="none"/>
<line x1="255.20" y1="555.60" x2="523.99" y2="555.60" stroke="#000" stroke-width="1.9" stroke-dasharray="7.5,7"/>
<line x1="55.35" y1="373.10" x2="55.35" y2="556.60" stroke="#000" stroke-width="2.4"/>
<line x1="54.15" y1="374.35" x2="258.40" y2="374.35" stroke="#000" stroke-width="1.9"/>
<line x1="257.55" y1="373.60" x2="257.55" y2="555.60" stroke="#000" stroke-width="1.75"/>
<line x1="54.15" y1="555.70" x2="262.20" y2="555.70" stroke="#000" stroke-width="2"/>
<path d="M118.55,373.60 v8 M118.55,555.60 v-8 M181.90,373.60 v8 M181.90,555.60 v-8 M245.25,373.60 v8 M245.25,555.60 v-8 M55.20,410.00 h8 M257.40,410.00 h-8 M55.20,446.40 h8 M257.40,446.40 h-8 M55.20,482.80 h8 M257.40,482.80 h-8 M55.20,519.20 h8 M257.40,519.20 h-8" stroke="#000" stroke-width="1.5" fill="none"/>
<path d="M67.87,426.02 V440.94" stroke="#111" stroke-width="2.1" fill="none"/><circle cx="67.87" cy="433.59" r="3.5" fill="#000"/><path d="M93.21,436.21 V484.98" stroke="#111" stroke-width="2.1" fill="none"/><circle cx="93.21" cy="460.38" r="3.5" fill="#000"/><path d="M118.55,460.96 V489.35" stroke="#111" stroke-width="2.1" fill="none"/><circle cx="118.55" cy="475.67" r="3.5" fill="#000"/><path d="M143.89,443.49 V490.95" stroke="#111" stroke-width="2.1" fill="none"/><path d="M141.19,443.49 h5.4" stroke="#111" stroke-width="1.4" fill="none"/><circle cx="143.89" cy="467.73" r="3.5" fill="#000"/><path d="M194.57,497.72 V514.47" stroke="#111" stroke-width="2.1" fill="none"/><path d="M191.87,497.72 h5.4" stroke="#111" stroke-width="1.4" fill="none"/><path d="M191.87,514.47 h5.4" stroke="#111" stroke-width="1.4" fill="none"/><circle cx="194.57" cy="506.10" r="3.5" fill="#000"/><path d="M245.25,512.65 V543.95" stroke="#111" stroke-width="2.1" fill="none"/><path d="M242.55,512.65 h5.4" stroke="#111" stroke-width="1.4" fill="none"/><path d="M242.55,543.95 h5.4" stroke="#111" stroke-width="1.4" fill="none"/><circle cx="245.25" cy="528.23" r="3.5" fill="#000"/>
<g clip-path="url(#cb)" fill="none" stroke-width="2.1" stroke-linecap="butt">
<path d="M55.20,445.06 C55.72,443.83 57.30,439.73 58.35,437.67 C59.39,435.61 60.44,434.05 61.49,432.72 C62.54,431.38 63.59,430.43 64.64,429.65 C65.69,428.87 66.74,428.39 67.78,428.05 C68.83,427.71 69.88,427.60 70.93,427.60 C71.98,427.61 73.03,427.79 74.08,428.06 C75.13,428.34 76.17,428.75 77.22,429.24 C78.27,429.72 79.32,430.32 80.37,430.97 C81.42,431.62 82.47,432.36 83.52,433.14 C84.56,433.92 85.61,434.76 86.66,435.64 C87.71,436.52 88.76,437.45 89.81,438.40 C90.86,439.35 91.91,440.35 92.95,441.35 C94.00,442.36 95.05,443.40 96.10,444.44 C97.15,445.49 98.20,446.56 99.25,447.63 C100.30,448.70 101.34,449.79 102.39,450.87 C103.44,451.96 104.49,453.06 105.54,454.15 C106.59,455.25 107.64,456.34 108.69,457.44 C109.73,458.53 110.78,459.63 111.83,460.72 C112.88,461.81 113.93,462.89 114.98,463.97 C116.03,465.05 117.08,466.12 118.12,467.19 C119.17,468.25 120.22,469.31 121.27,470.36 C122.32,471.41 123.37,472.45 124.42,473.48 C125.47,474.51 126.51,475.54 127.56,476.55 C128.61,477.56 129.66,478.56 130.71,479.55 C131.76,480.54 132.81,481.52 133.86,482.48 C134.90,483.45 135.95,484.41 137.00,485.35 C138.05,486.30 139.10,487.23 140.15,488.15 C141.20,489.07 142.25,489.98 143.29,490.88 C144.34,491.78 145.39,492.67 146.44,493.54 C147.49,494.42 148.54,495.28 149.59,496.14 C150.64,496.99 151.68,497.83 152.73,498.66 C153.78,499.49 154.83,500.31 155.88,501.11 C156.93,501.92 157.98,502.72 159.03,503.50 C160.07,504.29 161.12,505.06 162.17,505.82 C163.22,506.59 164.27,507.34 165.32,508.08 C166.37,508.82 167.42,509.56 168.46,510.28 C169.51,511.00 170.56,511.71 171.61,512.41 C172.66,513.11 173.71,513.80 174.76,514.49 C175.81,515.17 176.85,515.84 177.90,516.50 C178.95,517.17 180.00,517.82 181.05,518.46 C182.10,519.11 183.15,519.74 184.20,520.37 C185.24,520.99 186.29,521.61 187.34,522.22 C188.39,522.83 189.44,523.43 190.49,524.02 C191.54,524.61 192.59,525.20 193.63,525.77 C194.68,526.35 195.73,526.91 196.78,527.47 C197.83,528.03 198.88,528.58 199.93,529.13 C200.98,529.67 202.02,530.21 203.07,530.74 C204.12,531.27 205.17,531.79 206.22,532.30 C207.27,532.82 208.32,533.32 209.37,533.83 C210.41,534.33 211.46,534.82 212.51,535.31 C213.56,535.79 214.61,536.27 215.66,536.75 C216.71,537.22 217.76,537.69 218.80,538.15 C219.85,538.61 220.90,539.07 221.95,539.52 C223.00,539.97 224.05,540.41 225.10,540.85 C226.15,541.29 227.19,541.72 228.24,542.14 C229.29,542.57 230.34,542.99 231.39,543.40 C232.44,543.82 233.49,544.23 234.54,544.63 C235.58,545.04 236.63,545.44 237.68,545.83 C238.73,546.22 239.78,546.61 240.83,547.00 C241.88,547.38 242.93,547.76 243.97,548.13 C245.02,548.51 246.07,548.88 247.12,549.24 C248.17,549.61 249.22,549.97 250.27,550.32 C251.32,550.68 252.36,551.03 253.41,551.37 C254.46,551.72 255.51,552.06 256.56,552.40 C257.61,552.74 258.66,553.07 259.71,553.40 C260.75,553.73 261.80,554.06 262.85,554.38 C263.90,554.70 264.95,555.02 266.00,555.34 C267.05,555.65 268.10,555.96 269.14,556.27 C270.19,556.58 271.24,556.88 272.29,557.18 C273.34,557.48 274.39,557.77 275.44,558.07 C276.49,558.36 277.53,558.65 278.58,558.93 C279.63,559.22 280.68,559.50 281.73,559.78 C282.78,560.06 283.83,560.34 284.88,560.61 C285.92,560.88 286.97,561.15 288.02,561.42 C289.07,561.68 290.12,561.95 291.17,562.21 C292.22,562.47 293.27,562.73 294.31,562.98 C295.36,563.23 296.41,563.49 297.46,563.74 C298.51,563.98 299.56,564.23 300.61,564.47 C301.66,564.72 302.70,564.96 303.75,565.20 C304.80,565.43 305.85,565.67 306.90,565.90 C307.95,566.14 309.00,566.37 310.05,566.59 C311.09,566.82 312.14,567.05 313.19,567.27 C314.24,567.49 315.29,567.71 316.34,567.93 C317.39,568.15 318.44,568.37 319.48,568.58 C320.53,568.79 321.58,569.00 322.63,569.21 C323.68,569.42 324.73,569.63 325.78,569.83 C326.83,570.04 327.87,570.24 328.92,570.44 C329.97,570.64 331.02,570.84 332.07,571.04 C333.12,571.23 334.17,571.43 335.22,571.62 C336.26,571.81 337.31,572.00 338.36,572.19 C339.41,572.38 340.46,572.57 341.51,572.75 C342.56,572.94 343.61,573.12 344.65,573.30 C345.70,573.48 346.75,573.66 347.80,573.84 C348.85,574.01 349.90,574.19 350.95,574.36 C352.00,574.54 353.04,574.71 354.09,574.88 C355.14,575.05 356.19,575.22 357.24,575.39 C358.29,575.55 359.34,575.72 360.39,575.88 C361.43,576.05 362.48,576.21 363.53,576.37 C364.58,576.53 365.63,576.69 366.68,576.85 C367.73,577.01 368.78,577.16 369.82,577.32 C370.87,577.47 371.92,577.62 372.97,577.78 C374.02,577.93 375.07,578.08 376.12,578.23 C377.17,578.38 378.21,578.52 379.26,578.67 C380.31,578.82 381.36,578.96 382.41,579.11 C383.46,579.25 384.51,579.39 385.56,579.53 C386.60,579.67 387.65,579.81 388.70,579.95 C389.75,580.09 390.80,580.23 391.85,580.36 C392.90,580.50 393.95,580.63 394.99,580.77 C396.04,580.90 397.09,581.03 398.14,581.17 C399.19,581.30 400.24,581.43 401.29,581.55 C402.34,581.68 403.38,581.81 404.43,581.94 C405.48,582.06 406.53,582.19 407.58,582.31 C408.63,582.44 409.68,582.56 410.73,582.68 C411.77,582.81 412.82,582.93 413.87,583.05 C414.92,583.17 415.97,583.29 417.02,583.41 C418.07,583.52 419.12,583.64 420.16,583.76 C421.21,583.87 422.26,583.99 423.31,584.10 C424.36,584.22 425.41,584.33 426.46,584.44 C427.51,584.55 428.55,584.66 429.60,584.77 C430.65,584.89 431.70,584.99 432.75,585.10 C433.80,585.21 434.85,585.32 435.90,585.43 C436.94,585.53 437.99,585.64 439.04,585.74 C440.09,585.85 441.14,585.95 442.19,586.06 C443.24,586.16 444.29,586.26 445.33,586.36 C446.38,586.46 447.43,586.57 448.48,586.67 C449.53,586.77 450.58,586.86 451.63,586.96 C452.68,587.06 453.72,587.16 454.77,587.26 C455.82,587.35 456.87,587.45 457.92,587.54 C458.97,587.64 460.02,587.73 461.07,587.83 C462.11,587.92 463.16,588.01 464.21,588.11 C465.26,588.20 466.31,588.29 467.36,588.38 C468.41,588.47 469.46,588.56 470.50,588.65 C471.55,588.74 472.60,588.83 473.65,588.92 C474.70,589.01 475.75,589.10 476.80,589.18 C477.85,589.27 478.89,589.36 479.94,589.44 C480.99,589.53 482.04,589.61 483.09,589.70 C484.14,589.78 485.19,589.86 486.24,589.95 C487.28,590.03 488.33,590.11 489.38,590.19 C490.43,590.27 491.48,590.36 492.53,590.44 C493.58,590.52 494.63,590.60 495.67,590.68 C496.72,590.76 497.77,590.83 498.82,590.91 C499.87,590.99 500.92,591.07 501.97,591.15 C503.02,591.22 504.06,591.30 505.11,591.38 C506.16,591.45 507.21,591.53 508.26,591.60 C509.31,591.68 510.36,591.75 511.41,591.82 C512.45,591.90 513.50,591.97 514.55,592.04 C515.60,592.12 516.65,592.19 517.70,592.26 C518.75,592.33 519.80,592.40 520.84,592.48 C521.89,592.55 523.47,592.65 523.99,592.69" stroke="#2e7dc2"/>
<path d="M55.20,438.21 C55.72,437.40 57.30,434.68 58.35,433.33 C59.39,431.99 60.44,430.98 61.49,430.14 C62.54,429.30 63.59,428.73 64.64,428.29 C65.69,427.84 66.74,427.61 67.78,427.48 C68.83,427.35 69.88,427.39 70.93,427.50 C71.98,427.62 73.03,427.87 74.08,428.17 C75.13,428.48 76.17,428.89 77.22,429.35 C78.27,429.80 79.32,430.34 80.37,430.91 C81.42,431.48 82.47,432.11 83.52,432.77 C84.56,433.43 85.61,434.14 86.66,434.87 C87.71,435.59 88.76,436.35 89.81,437.13 C90.86,437.90 91.91,438.70 92.95,439.51 C94.00,440.32 95.05,441.14 96.10,441.97 C97.15,442.81 98.20,443.65 99.25,444.49 C100.30,445.34 101.34,446.19 102.39,447.04 C103.44,447.90 104.49,448.75 105.54,449.60 C106.59,450.46 107.64,451.31 108.69,452.16 C109.73,453.01 110.78,453.85 111.83,454.70 C112.88,455.54 113.93,456.37 114.98,457.21 C116.03,458.04 117.08,458.86 118.12,459.68 C119.17,460.50 120.22,461.31 121.27,462.12 C122.32,462.92 123.37,463.72 124.42,464.51 C125.47,465.29 126.51,466.08 127.56,466.85 C128.61,467.62 129.66,468.38 130.71,469.14 C131.76,469.90 132.81,470.64 133.86,471.38 C134.90,472.12 135.95,472.85 137.00,473.57 C138.05,474.29 139.10,475.00 140.15,475.70 C141.20,476.40 142.25,477.10 143.29,477.78 C144.34,478.47 145.39,479.14 146.44,479.81 C147.49,480.48 148.54,481.13 149.59,481.78 C150.64,482.43 151.68,483.07 152.73,483.71 C153.78,484.34 154.83,484.96 155.88,485.58 C156.93,486.19 157.98,486.80 159.03,487.40 C160.07,488.00 161.12,488.59 162.17,489.18 C163.22,489.76 164.27,490.33 165.32,490.90 C166.37,491.47 167.42,492.03 168.46,492.58 C169.51,493.13 170.56,493.68 171.61,494.22 C172.66,494.75 173.71,495.28 174.76,495.81 C175.81,496.33 176.85,496.84 177.90,497.35 C178.95,497.86 180.00,498.36 181.05,498.86 C182.10,499.36 183.15,499.84 184.20,500.33 C185.24,500.81 186.29,501.28 187.34,501.75 C188.39,502.22 189.44,502.69 190.49,503.14 C191.54,503.60 192.59,504.05 193.63,504.50 C194.68,504.94 195.73,505.38 196.78,505.81 C197.83,506.25 198.88,506.68 199.93,507.10 C200.98,507.52 202.02,507.94 203.07,508.35 C204.12,508.76 205.17,509.17 206.22,509.57 C207.27,509.97 208.32,510.36 209.37,510.75 C210.41,511.14 211.46,511.53 212.51,511.91 C213.56,512.29 214.61,512.67 215.66,513.04 C216.71,513.41 217.76,513.78 218.80,514.14 C219.85,514.50 220.90,514.86 221.95,515.21 C223.00,515.57 224.05,515.91 225.10,516.26 C226.15,516.60 227.19,516.94 228.24,517.28 C229.29,517.62 230.34,517.95 231.39,518.28 C232.44,518.60 233.49,518.93 234.54,519.25 C235.58,519.57 236.63,519.89 237.68,520.20 C238.73,520.51 239.78,520.82 240.83,521.13 C241.88,521.43 242.93,521.73 243.97,522.03 C245.02,522.33 246.07,522.62 247.12,522.92 C248.17,523.21 249.22,523.50 250.27,523.78 C251.32,524.06 252.36,524.35 253.41,524.62 C254.46,524.90 255.51,525.18 256.56,525.45 C257.61,525.72 258.66,525.99 259.71,526.26 C260.75,526.52 261.80,526.79 262.85,527.05 C263.90,527.31 264.95,527.56 266.00,527.82 C267.05,528.07 268.10,528.32 269.14,528.57 C270.19,528.82 271.24,529.07 272.29,529.31 C273.34,529.55 274.39,529.79 275.44,530.03 C276.49,530.27 277.53,530.51 278.58,530.74 C279.63,530.97 280.68,531.20 281.73,531.43 C282.78,531.66 283.83,531.88 284.88,532.11 C285.92,532.33 286.97,532.55 288.02,532.77 C289.07,532.99 290.12,533.21 291.17,533.42 C292.22,533.64 293.27,533.85 294.31,534.06 C295.36,534.27 296.41,534.48 297.46,534.68 C298.51,534.89 299.56,535.09 300.61,535.29 C301.66,535.49 302.70,535.69 303.75,535.89 C304.80,536.09 305.85,536.28 306.90,536.48 C307.95,536.67 309.00,536.86 310.05,537.05 C311.09,537.24 312.14,537.43 313.19,537.62 C314.24,537.80 315.29,537.99 316.34,538.17 C317.39,538.35 318.44,538.53 319.48,538.71 C320.53,538.89 321.58,539.07 322.63,539.25 C323.68,539.42 324.73,539.60 325.78,539.77 C326.83,539.94 327.87,540.11 328.92,540.28 C329.97,540.45 331.02,540.62 332.07,540.78 C333.12,540.95 334.17,541.12 335.22,541.28 C336.26,541.44 337.31,541.60 338.36,541.76 C339.41,541.92 340.46,542.08 341.51,542.24 C342.56,542.40 343.61,542.55 344.65,542.71 C345.70,542.86 346.75,543.01 347.80,543.17 C348.85,543.32 349.90,543.47 350.95,543.62 C352.00,543.77 353.04,543.91 354.09,544.06 C355.14,544.21 356.19,544.35 357.24,544.49 C358.29,544.64 359.34,544.78 360.39,544.92 C361.43,545.06 362.48,545.20 363.53,545.34 C364.58,545.48 365.63,545.62 366.68,545.76 C367.73,545.89 368.78,546.03 369.82,546.16 C370.87,546.30 371.92,546.43 372.97,546.56 C374.02,546.69 375.07,546.82 376.12,546.95 C377.17,547.08 378.21,547.21 379.26,547.34 C380.31,547.47 381.36,547.59 382.41,547.72 C383.46,547.85 384.51,547.97 385.56,548.09 C386.60,548.22 387.65,548.34 388.70,548.46 C389.75,548.58 390.80,548.70 391.85,548.82 C392.90,548.94 393.95,549.06 394.99,549.18 C396.04,549.30 397.09,549.41 398.14,549.53 C399.19,549.65 400.24,549.76 401.29,549.87 C402.34,549.99 403.38,550.10 404.43,550.21 C405.48,550.33 406.53,550.44 407.58,550.55 C408.63,550.66 409.68,550.77 410.73,550.88 C411.77,550.98 412.82,551.09 413.87,551.20 C414.92,551.31 415.97,551.41 417.02,551.52 C418.07,551.62 419.12,551.73 420.16,551.83 C421.21,551.94 422.26,552.04 423.31,552.14 C424.36,552.24 425.41,552.35 426.46,552.45 C427.51,552.55 428.55,552.65 429.60,552.75 C430.65,552.85 431.70,552.95 432.75,553.04 C433.80,553.14 434.85,553.24 435.90,553.33 C436.94,553.43 437.99,553.53 439.04,553.62 C440.09,553.72 441.14,553.81 442.19,553.91 C443.24,554.00 444.29,554.09 445.33,554.18 C446.38,554.28 447.43,554.37 448.48,554.46 C449.53,554.55 450.58,554.64 451.63,554.73 C452.68,554.82 453.72,554.91 454.77,555.00 C455.82,555.09 456.87,555.17 457.92,555.26 C458.97,555.35 460.02,555.44 461.07,555.52 C462.11,555.61 463.16,555.69 464.21,555.78 C465.26,555.86 466.31,555.95 467.36,556.03 C468.41,556.11 469.46,556.20 470.50,556.28 C471.55,556.36 472.60,556.44 473.65,556.53 C474.70,556.61 475.75,556.69 476.80,556.77 C477.85,556.85 478.89,556.93 479.94,557.01 C480.99,557.09 482.04,557.17 483.09,557.24 C484.14,557.32 485.19,557.40 486.24,557.48 C487.28,557.55 488.33,557.63 489.38,557.71 C490.43,557.78 491.48,557.86 492.53,557.93 C493.58,558.01 494.63,558.08 495.67,558.16 C496.72,558.23 497.77,558.31 498.82,558.38 C499.87,558.45 500.92,558.53 501.97,558.60 C503.02,558.67 504.06,558.74 505.11,558.81 C506.16,558.89 507.21,558.96 508.26,559.03 C509.31,559.10 510.36,559.17 511.41,559.24 C512.45,559.31 513.50,559.38 514.55,559.44 C515.60,559.51 516.65,559.58 517.70,559.65 C518.75,559.72 519.80,559.79 520.84,559.85 C521.89,559.92 523.47,560.02 523.99,560.05" stroke="#e8151f"/>
<path d="M55.20,432.57 C55.72,432.14 57.30,430.67 58.35,429.96 C59.39,429.25 60.44,428.72 61.49,428.31 C62.54,427.89 63.59,427.63 64.64,427.46 C65.69,427.29 66.74,427.25 67.78,427.27 C68.83,427.29 69.88,427.42 70.93,427.60 C71.98,427.78 73.03,428.04 74.08,428.34 C75.13,428.65 76.17,429.01 77.22,429.41 C78.27,429.81 79.32,430.26 80.37,430.73 C81.42,431.20 82.47,431.71 83.52,432.23 C84.56,432.76 85.61,433.32 86.66,433.88 C87.71,434.45 88.76,435.03 89.81,435.63 C90.86,436.22 91.91,436.83 92.95,437.45 C94.00,438.06 95.05,438.69 96.10,439.31 C97.15,439.94 98.20,440.57 99.25,441.20 C100.30,441.83 101.34,442.47 102.39,443.10 C103.44,443.73 104.49,444.37 105.54,445.00 C106.59,445.63 107.64,446.25 108.69,446.88 C109.73,447.50 110.78,448.13 111.83,448.74 C112.88,449.36 113.93,449.97 114.98,450.58 C116.03,451.19 117.08,451.79 118.12,452.39 C119.17,452.98 120.22,453.57 121.27,454.16 C122.32,454.74 123.37,455.32 124.42,455.90 C125.47,456.47 126.51,457.04 127.56,457.60 C128.61,458.16 129.66,458.71 130.71,459.26 C131.76,459.80 132.81,460.34 133.86,460.88 C134.90,461.41 135.95,461.94 137.00,462.46 C138.05,462.98 139.10,463.49 140.15,464.00 C141.20,464.51 142.25,465.01 143.29,465.50 C144.34,465.99 145.39,466.48 146.44,466.96 C147.49,467.44 148.54,467.92 149.59,468.39 C150.64,468.86 151.68,469.32 152.73,469.78 C153.78,470.23 154.83,470.68 155.88,471.13 C156.93,471.57 157.98,472.01 159.03,472.44 C160.07,472.87 161.12,473.30 162.17,473.72 C163.22,474.14 164.27,474.56 165.32,474.97 C166.37,475.38 167.42,475.78 168.46,476.18 C169.51,476.58 170.56,476.97 171.61,477.36 C172.66,477.75 173.71,478.13 174.76,478.51 C175.81,478.89 176.85,479.26 177.90,479.63 C178.95,480.00 180.00,480.36 181.05,480.72 C182.10,481.08 183.15,481.44 184.20,481.79 C185.24,482.14 186.29,482.48 187.34,482.82 C188.39,483.16 189.44,483.50 190.49,483.83 C191.54,484.16 192.59,484.49 193.63,484.81 C194.68,485.14 195.73,485.46 196.78,485.77 C197.83,486.09 198.88,486.40 199.93,486.71 C200.98,487.02 202.02,487.32 203.07,487.62 C204.12,487.92 205.17,488.22 206.22,488.51 C207.27,488.80 208.32,489.09 209.37,489.38 C210.41,489.66 211.46,489.95 212.51,490.23 C213.56,490.50 214.61,490.78 215.66,491.05 C216.71,491.32 217.76,491.59 218.80,491.86 C219.85,492.13 220.90,492.39 221.95,492.65 C223.00,492.91 224.05,493.16 225.10,493.42 C226.15,493.67 227.19,493.92 228.24,494.17 C229.29,494.42 230.34,494.66 231.39,494.90 C232.44,495.15 233.49,495.39 234.54,495.62 C235.58,495.86 236.63,496.09 237.68,496.33 C238.73,496.56 239.78,496.79 240.83,497.01 C241.88,497.24 242.93,497.46 243.97,497.68 C245.02,497.91 246.07,498.12 247.12,498.34 C248.17,498.56 249.22,498.77 250.27,498.98 C251.32,499.20 252.36,499.40 253.41,499.61 C254.46,499.82 255.51,500.02 256.56,500.23 C257.61,500.43 258.66,500.63 259.71,500.83 C260.75,501.03 261.80,501.23 262.85,501.42 C263.90,501.62 264.95,501.81 266.00,502.00 C267.05,502.19 268.10,502.38 269.14,502.56 C270.19,502.75 271.24,502.94 272.29,503.12 C273.34,503.30 274.39,503.48 275.44,503.66 C276.49,503.84 277.53,504.02 278.58,504.20 C279.63,504.37 280.68,504.55 281.73,504.72 C282.78,504.89 283.83,505.06 284.88,505.23 C285.92,505.40 286.97,505.57 288.02,505.73 C289.07,505.90 290.12,506.06 291.17,506.22 C292.22,506.39 293.27,506.55 294.31,506.71 C295.36,506.87 296.41,507.02 297.46,507.18 C298.51,507.34 299.56,507.49 300.61,507.65 C301.66,507.80 302.70,507.95 303.75,508.10 C304.80,508.25 305.85,508.40 306.90,508.55 C307.95,508.70 309.00,508.84 310.05,508.99 C311.09,509.13 312.14,509.28 313.19,509.42 C314.24,509.56 315.29,509.71 316.34,509.85 C317.39,509.99 318.44,510.12 319.48,510.26 C320.53,510.40 321.58,510.54 322.63,510.67 C323.68,510.81 324.73,510.94 325.78,511.07 C326.83,511.21 327.87,511.34 328.92,511.47 C329.97,511.60 331.02,511.73 332.07,511.86 C333.12,511.98 334.17,512.11 335.22,512.24 C336.26,512.36 337.31,512.49 338.36,512.61 C339.41,512.74 340.46,512.86 341.51,512.98 C342.56,513.10 343.61,513.22 344.65,513.34 C345.70,513.46 346.75,513.58 347.80,513.70 C348.85,513.82 349.90,513.94 350.95,514.05 C352.00,514.17 353.04,514.28 354.09,514.40 C355.14,514.51 356.19,514.62 357.24,514.74 C358.29,514.85 359.34,514.96 360.39,515.07 C361.43,515.18 362.48,515.29 363.53,515.40 C364.58,515.51 365.63,515.62 366.68,515.72 C367.73,515.83 368.78,515.94 369.82,516.04 C370.87,516.15 371.92,516.25 372.97,516.35 C374.02,516.46 375.07,516.56 376.12,516.66 C377.17,516.77 378.21,516.87 379.26,516.97 C380.31,517.07 381.36,517.17 382.41,517.27 C383.46,517.37 384.51,517.46 385.56,517.56 C386.60,517.66 387.65,517.76 388.70,517.85 C389.75,517.95 390.80,518.04 391.85,518.14 C392.90,518.23 393.95,518.33 394.99,518.42 C396.04,518.51 397.09,518.61 398.14,518.70 C399.19,518.79 400.24,518.88 401.29,518.97 C402.34,519.06 403.38,519.15 404.43,519.24 C405.48,519.33 406.53,519.42 407.58,519.51 C408.63,519.59 409.68,519.68 410.73,519.77 C411.77,519.86 412.82,519.94 413.87,520.03 C414.92,520.11 415.97,520.20 417.02,520.28 C418.07,520.37 419.12,520.45 420.16,520.53 C421.21,520.62 422.26,520.70 423.31,520.78 C424.36,520.86 425.41,520.94 426.46,521.02 C427.51,521.11 428.55,521.19 429.60,521.27 C430.65,521.34 431.70,521.42 432.75,521.50 C433.80,521.58 434.85,521.66 435.90,521.74 C436.94,521.81 437.99,521.89 439.04,521.97 C440.09,522.04 441.14,522.12 442.19,522.20 C443.24,522.27 444.29,522.35 445.33,522.42 C446.38,522.50 447.43,522.57 448.48,522.64 C449.53,522.72 450.58,522.79 451.63,522.86 C452.68,522.94 453.72,523.01 454.77,523.08 C455.82,523.15 456.87,523.22 457.92,523.29 C458.97,523.36 460.02,523.43 461.07,523.50 C462.11,523.57 463.16,523.64 464.21,523.71 C465.26,523.78 466.31,523.85 467.36,523.92 C468.41,523.99 469.46,524.05 470.50,524.12 C471.55,524.19 472.60,524.25 473.65,524.32 C474.70,524.39 475.75,524.45 476.80,524.52 C477.85,524.58 478.89,524.65 479.94,524.71 C480.99,524.78 482.04,524.84 483.09,524.91 C484.14,524.97 485.19,525.03 486.24,525.10 C487.28,525.16 488.33,525.22 489.38,525.29 C490.43,525.35 491.48,525.41 492.53,525.47 C493.58,525.53 494.63,525.60 495.67,525.66 C496.72,525.72 497.77,525.78 498.82,525.84 C499.87,525.90 500.92,525.96 501.97,526.02 C503.02,526.08 504.06,526.14 505.11,526.19 C506.16,526.25 507.21,526.31 508.26,526.37 C509.31,526.43 510.36,526.49 511.41,526.54 C512.45,526.60 513.50,526.66 514.55,526.71 C515.60,526.77 516.65,526.83 517.70,526.88 C518.75,526.94 519.80,527.00 520.84,527.05 C521.89,527.11 523.47,527.19 523.99,527.22" stroke="#3aaa35"/>
</g>
<rect x="337.5" y="392.9" width="153.0" height="64.7" fill="#fff" stroke="#000" stroke-width="2.6"/>
<line x1="459.5" y1="404" x2="481" y2="404" stroke="#6ba3d6" stroke-width="1.7"/>
<line x1="459.5" y1="417.3" x2="481" y2="417.3" stroke="#e8333a" stroke-width="1.2"/>
<line x1="459.5" y1="430" x2="481" y2="430" stroke="#5cb85c" stroke-width="1.4"/>
<path d="M461.5,443 H478 M461.6,440 v6 M477.9,440 v6" stroke="#000" stroke-width="1.3" fill="none"/>
<circle cx="469.8" cy="443" r="3.6" fill="#000"/>
</svg>
<div class="t pl" style="left:9.60px;top:6.00px;transform:translate(0,-50%);">(a)</div>
<div class="t pl" style="left:0.50px;top:359.30px;transform:translate(0,-50%);">(b)</div>
<div class="t ta" style="left:48.00px;top:324.00px;transform:translate(-50%,-50%);">0</div>
<div class="t ta" style="left:39.30px;top:311.50px;transform:translate(-100%,-50%);">0</div>
<div class="t ta" style="left:89.17px;top:324.00px;transform:translate(-50%,-50%);">6</div>
<div class="t ta" style="left:39.30px;top:270.77px;transform:translate(-100%,-50%);">6</div>
<div class="t ta" style="left:130.34px;top:324.00px;transform:translate(-50%,-50%);">12</div>
<div class="t ta" style="left:39.30px;top:230.04px;transform:translate(-100%,-50%);">12</div>
<div class="t ta" style="left:171.51px;top:324.00px;transform:translate(-50%,-50%);">18</div>
<div class="t ta" style="left:39.30px;top:189.31px;transform:translate(-100%,-50%);">18</div>
<div class="t ta" style="left:212.69px;top:324.00px;transform:translate(-50%,-50%);">24</div>
<div class="t ta" style="left:39.30px;top:148.59px;transform:translate(-100%,-50%);">24</div>
<div class="t ta" style="left:253.86px;top:324.00px;transform:translate(-50%,-50%);">30</div>
<div class="t ta" style="left:39.30px;top:107.86px;transform:translate(-100%,-50%);">30</div>
<div class="t ta" style="left:295.03px;top:324.00px;transform:translate(-50%,-50%);">36</div>
<div class="t ta" style="left:39.30px;top:67.13px;transform:translate(-100%,-50%);">36</div>
<div class="t ta" style="left:336.20px;top:324.00px;transform:translate(-50%,-50%);">42</div>
<div class="t ta" style="left:39.30px;top:26.40px;transform:translate(-100%,-50%);">42</div>
<div class="t ta" style="left:362.30px;top:27.00px;transform:translate(0,-50%);">1.75</div>
<div class="t ta" style="left:366.80px;top:168.75px;transform:translate(0,-50%);">0</div>
<div class="t ta" style="left:358.80px;top:311.30px;transform:translate(0,-50%);">-1.75</div>
<div class="t lab" style="left:8.30px;top:167.00px;transform:translate(-50%,-50%);transform:translate(-50%,-50%) rotate(-90deg);will-change:auto;">Wave period [min]</div>
<div class="t lab" style="left:392.80px;top:158.00px;transform:translate(-50%,-50%);transform:translate(-50%,-50%) rotate(-90deg);will-change:auto;">Averaged velocity [µm/min]</div>
<div class="t" style="font-size:13.10px;left:159.60px;top:332.94px;"><i>τ</i></div>
<div class="t" style="font-size:10.60px;left:164.20px;top:337.87px;">mot</div>
<div class="t" style="font-size:11.00px;left:186.40px;top:336.41px;">-</div>
<div class="t" style="font-size:13.10px;left:193.00px;top:332.94px;"><i>τ</i></div>
<div class="t" style="font-size:10.60px;left:197.20px;top:337.87px;">pol</div>
<div class="t" style="font-size:13.10px;left:217.90px;top:332.14px;">[min]</div>
<div class="t tb" style="left:55.20px;top:603.30px;transform:translate(-50%,-50%);">5</div>
<div class="t tb" style="left:118.55px;top:603.30px;transform:translate(-50%,-50%);">10</div>
<div class="t tb" style="left:181.90px;top:603.30px;transform:translate(-50%,-50%);">15</div>
<div class="t tb" style="left:245.25px;top:603.30px;transform:translate(-50%,-50%);">20</div>
<div class="t tb" style="left:308.60px;top:603.30px;transform:translate(-50%,-50%);">25</div>
<div class="t tb" style="left:371.95px;top:603.30px;transform:translate(-50%,-50%);">30</div>
<div class="t tb" style="left:435.30px;top:603.30px;transform:translate(-50%,-50%);">35</div>
<div class="t tb" style="left:498.65px;top:603.30px;transform:translate(-50%,-50%);">40</div>
<div class="t tb" style="left:49.00px;top:374.30px;transform:translate(-100%,-50%);">2.5</div>
<div class="t tb" style="left:49.00px;top:410.70px;transform:translate(-100%,-50%);">2</div>
<div class="t tb" style="left:49.00px;top:447.10px;transform:translate(-100%,-50%);">1.5</div>
<div class="t tb" style="left:49.00px;top:483.50px;transform:translate(-100%,-50%);">1</div>
<div class="t tb" style="left:49.00px;top:519.90px;transform:translate(-100%,-50%);">0.5</div>
<div class="t tb" style="left:49.00px;top:556.30px;transform:translate(-100%,-50%);">0</div>
<div class="t tb" style="left:49.00px;top:592.70px;transform:translate(-100%,-50%);">-0.5</div>
<div class="t lab" style="left:288.80px;top:622.20px;transform:translate(-50%,-50%);">Wave period [min]</div>
<div class="t lab" style="left:15.60px;top:482.60px;transform:translate(-50%,-50%);transform:translate(-50%,-50%) rotate(-90deg);will-change:auto;">Averaged velocity [µm/min]</div>
<div class="t tb" style="left:409.90px;top:404.90px;transform:translate(-100%,-50%);">α = 0.40</div>
<div class="t tb" style="left:409.90px;top:418.20px;transform:translate(-100%,-50%);">α = 0.45</div>
<div class="t tb" style="left:409.90px;top:430.90px;transform:translate(-100%,-50%);">α = 0.50</div>
<div class="t tb" style="left:455.40px;top:443.90px;transform:translate(-100%,-50%);">Skoge et al. (2014)</div>
</body></html>
